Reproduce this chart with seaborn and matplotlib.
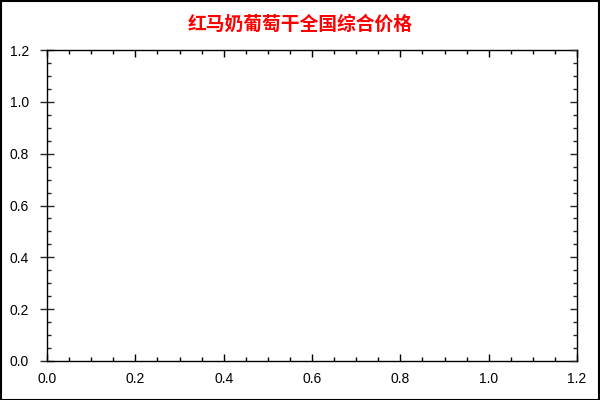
import matplotlib
matplotlib.use("Agg")
import matplotlib.pyplot as plt
import seaborn as sns
from matplotlib.ticker import MultipleLocator, FormatStrFormatter
from matplotlib.patches import Rectangle

# chart data (the reference chart has no series drawn)
title = "红马奶葡萄干全国综合价格"
dates = []
prices = []
x_ticks = [0.0, 0.2, 0.4, 0.6, 0.8, 1.0, 1.2]
y_ticks = [0.0, 0.2, 0.4, 0.6, 0.8, 1.0, 1.2]

sns.set_style("white")
plt.rcParams["font.family"] = ["Liberation Sans", "Noto Sans CJK SC", "DejaVu Sans"]

fig = plt.figure(figsize=(6, 4), dpi=100)
ax = fig.add_axes([47 / 600, 39 / 400, 530 / 600, 311 / 400])

if dates:
    sns.lineplot(x=dates, y=prices, ax=ax, color="red")

ax.set_xlim(x_ticks[0], x_ticks[-1])
ax.set_ylim(y_ticks[0], y_ticks[-1])
ax.set_xticks(x_ticks)
ax.set_yticks(y_ticks)
ax.xaxis.set_major_formatter(FormatStrFormatter("%.1f"))
ax.yaxis.set_major_formatter(FormatStrFormatter("%.1f"))
ax.xaxis.set_minor_locator(MultipleLocator(0.05))
ax.yaxis.set_minor_locator(MultipleLocator(0.05))

for side in ["left", "right", "top", "bottom"]:
    ax.spines[side].set_visible(True)
    ax.spines[side].set_color("black")
    ax.spines[side].set_linewidth(1)

# x axis: ticks inside, on bottom and top
ax.tick_params(axis="x", which="both", direction="in", color="black",
               top=True, bottom=True, labelsize=10, labelcolor="black", pad=8)
ax.tick_params(axis="x", which="major", length=5, width=1)
ax.tick_params(axis="x", which="minor", length=3, width=1)

# left axis: major ticks cross the spine, minor inside
ax.tick_params(axis="y", which="major", direction="inout", length=10, width=1,
               left=True, right=False, labelsize=10, labelcolor="black", pad=8)
ax.tick_params(axis="y", which="minor", direction="in", length=3, width=1,
               left=True, right=False)

# right axis: ticks inside only
ax_r = ax.twinx()
ax_r.set_ylim(ax.get_ylim())
ax_r.set_yticks(y_ticks)
ax_r.yaxis.set_minor_locator(MultipleLocator(0.05))
ax_r.tick_params(axis="y", which="both", direction="in", right=True, labelright=False, width=1)
ax_r.tick_params(axis="y", which="major", length=5)
ax_r.tick_params(axis="y", which="minor", length=3)
for side in ax_r.spines:
    ax_r.spines[side].set_visible(False)

fig.text(0.5, 1 - 24 / 400, title, color="red", fontsize=13.5, fontweight="bold",
         ha="center", va="center", family=["Noto Sans CJK SC", "DejaVu Sans"])

# outer frame
fig.patches.append(Rectangle((0.001, 0.001), 0.997, 0.996, transform=fig.transFigure,
                             fill=False, edgecolor="black", linewidth=1.5))

fig.savefig("out.png", dpi=100)
